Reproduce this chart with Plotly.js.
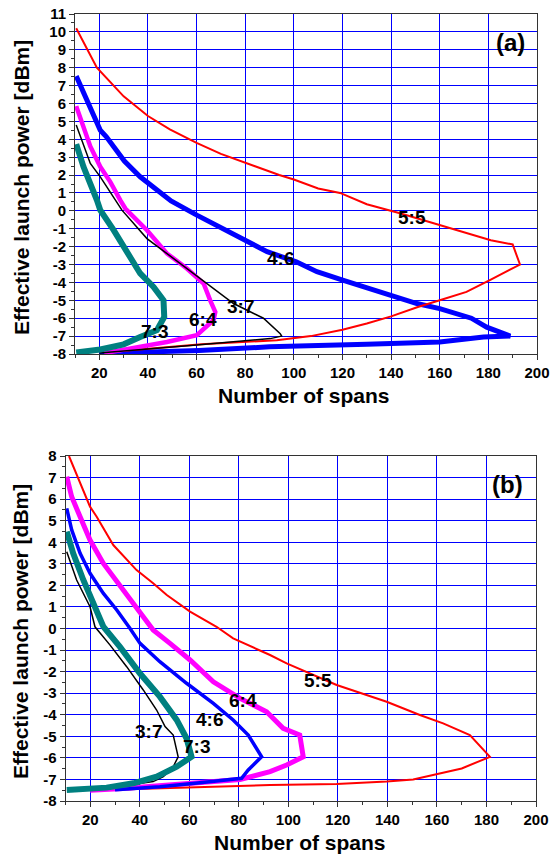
<!DOCTYPE html>
<html><head><meta charset="utf-8">
<script src="https://cdn.plot.ly/plotly-3.0.1.min.js"></script>
<style>html,body{margin:0;padding:0;background:#fff}</style>
</head><body>
<div id="chart" style="width:556px;height:856px"></div>
<script>
// Panel (a)
const a55x = [10.5, 19, 30, 40, 49, 60, 70, 81, 94, 100, 110, 119, 130, 144, 160, 181, 190, 193, 181, 171, 160, 151, 140, 130, 120, 107, 93, 62, 22];
const a55y = [10.2, 8.0, 6.4, 5.3, 4.55, 3.8, 3.18, 2.62, 2.0, 1.75, 1.25, 1.0, 0.37, -0.15, -0.8, -1.64, -1.88, -3.0, -3.84, -4.53, -5.0, -5.37, -5.9, -6.3, -6.64, -7.0, -7.23, -7.46, -7.92];
const a46x = [10.5, 13.5, 20.4, 22.9, 30.3, 36.8, 43.7, 49.5, 60.1, 69.7, 80.7, 89, 101, 109.5, 120.4, 131.4, 141, 150.6, 160, 171, 173, 179.3, 189, 178, 160, 130, 111, 90, 61, 20];
const a46y = [7.53, 6.65, 4.5, 4.14, 2.78, 1.9, 1.16, 0.55, -0.24, -0.9, -1.73, -2.28, -2.85, -3.4, -3.88, -4.34, -4.77, -5.18, -5.46, -5.9, -6.0, -6.5, -7.0, -7.05, -7.33, -7.46, -7.5, -7.6, -7.8, -7.97];
const a64x = [10.5, 12.9, 16.3, 20.4, 24.5, 28.6, 30.7, 39.6, 47.8, 56, 62.9, 65.6, 67.7, 67, 60.1, 47.8, 34.1, 22];
const a64y = [5.85, 4.9, 3.6, 2.46, 1.62, 0.6, 0.13, -1.08, -2.38, -3.22, -4.06, -5.0, -5.65, -6.1, -6.95, -7.33, -7.64, -7.95];
const a37x = [10.5, 12.2, 16.3, 20.4, 25.9, 29.3, 39.6, 50.5, 61.5, 75.2, 87.5, 94.4, 95, 90.3, 60, 20];
const a37y = [4.8, 4.14, 2.65, 1.9, 0.78, 0.04, -1.55, -2.66, -3.78, -5.18, -6.0, -6.86, -7.0, -7.14, -7.5, -7.95];
const a73x = [10.5, 13.5, 19, 20.4, 25.9, 31.4, 36.8, 42.3, 46.4, 46.7, 43.7, 36.8, 30, 20.4, 10.5];
const a73y = [3.73, 2.46, 0.6, 0.04, -1.08, -2.38, -3.5, -4.25, -5.0, -5.93, -6.67, -7.05, -7.46, -7.75, -7.92];

// Panel (b)
const b55x = [11.4, 19.9, 22.6, 29.3, 38.7, 45.4, 50.9, 60.3, 71, 77.7, 92.6, 99.3, 119.5, 139.7, 153.1, 162.5, 173.3, 181.4, 170, 159.9, 150.4, 139.7, 128.9, 119.5, 92.6, 60, 35];
const b55y = [8.0, 5.65, 5.18, 3.87, 2.71, 2.1, 1.55, 0.78, 0.08, -0.46, -1.23, -1.62, -2.62, -3.4, -4.01, -4.4, -4.94, -5.95, -6.49, -6.75, -7.0, -7.1, -7.15, -7.21, -7.26, -7.35, -7.45];
const b64x = [10.5, 12.5, 15.9, 19.9, 25.3, 33.3, 40.1, 45.4, 52.2, 60.3, 69.7, 80.5, 91.2, 97.9, 104.6, 106, 99.3, 92.6, 80.5, 64.3, 48.1, 33.3, 20];
const b64y = [7.04, 6.11, 5.18, 4.1, 3.02, 1.78, 0.7, -0.07, -0.69, -1.46, -2.47, -3.24, -3.86, -4.63, -4.94, -5.95, -6.33, -6.64, -7.0, -7.15, -7.3, -7.42, -7.5];
const b46x = [10.5, 12.5, 15.9, 19.9, 25.3, 30.7, 36, 40.1, 48.1, 58.9, 69.7, 77.7, 83.8, 89.2, 83.8, 81.1, 64.3, 48.1, 30];
const b46y = [5.57, 4.57, 3.49, 2.56, 1.63, 0.86, 0.01, -0.69, -1.54, -2.54, -3.47, -4.24, -4.94, -5.95, -6.56, -6.95, -7.15, -7.34, -7.48];
const b37x = [10.5, 14.5, 19.9, 21.9, 28, 34.7, 41.4, 46.8, 50.2, 53.5, 55.5, 53.5, 49.5, 45.4, 30, 12];
const b37y = [3.56, 2.25, 1.01, 0.08, -0.77, -1.77, -2.85, -3.78, -4.55, -4.94, -5.95, -6.41, -6.87, -7.1, -7.35, -7.5];
const b73x = [10.5, 13.1, 17.2, 21.2, 25.3, 32, 40.1, 48.1, 54.9, 58.9, 60.9, 54.9, 46.8, 37.4, 26.6, 10.5];
const b73y = [4.49, 3.49, 2.25, 1.17, 0.08, -0.85, -2.09, -3.16, -4.24, -5.1, -5.95, -6.41, -6.87, -7.18, -7.38, -7.49];

const ratioLabels = ["5:5", "4:6", "3:7", "6:4", "7:3"];
const aLabelX = [148.5, 94.5, 78.2, 62.8, 42.6];
const aLabelY = [-0.4, -2.65, -5.37, -6.07, -6.73];
const bLabelX = [112, 68.3, 43.4, 81.8, 63];
const bLabelY = [-2.39, -4.24, -4.79, -3.32, -5.45];

const xTickVals = [20, 40, 60, 80, 100, 120, 140, 160, 180, 200];
const yTickValsA = [-8, -7, -6, -5, -4, -3, -2, -1, 0, 1, 2, 3, 4, 5, 6, 7, 8, 9, 10, 11];
const yTickValsB = [-8, -7, -6, -5, -4, -3, -2, -1, 0, 1, 2, 3, 4, 5, 6, 7, 8];

const C = {red:'#ff0000', blue:'#0000ff', mag:'#ff00ff', blk:'#000000', teal:'#008080'};
function tr(x, y, color, w, xa, ya){
  return {x:x, y:y, type:'scatter', mode:'lines', line:{color:color, width:w, shape:'linear'},
          xaxis:xa, yaxis:ya, showlegend:false, hoverinfo:'skip'};
}
const traces = [
  tr(a46x, a46y, C.blue, 5, 'x', 'y'),
  tr(a55x, a55y, C.red, 2, 'x', 'y'),
  tr(a64x, a64y, C.mag, 4.5, 'x', 'y'),
  tr(a37x, a37y, C.blk, 1.5, 'x', 'y'),
  tr(a73x, a73y, C.teal, 6, 'x', 'y'),
  tr(b55x, b55y, C.red, 2, 'x2', 'y2'),
  tr(b64x, b64y, C.mag, 5, 'x2', 'y2'),
  tr(b46x, b46y, C.blue, 3.5, 'x2', 'y2'),
  tr(b37x, b37y, C.blk, 1.5, 'x2', 'y2'),
  tr(b73x, b73y, C.teal, 6, 'x2', 'y2')
];

const W = 556, H = 856;
const FONT = 'Liberation Sans, Arial, sans-serif';
const tickFont = {family:FONT, size:15, color:'#000'};
const grid = '#0000ff';
const bold = v => '<b>' + v + '</b>';
function xAx(dom, anchor){
  return {domain:dom, anchor:anchor, range:[10,200], tickmode:'array', tickvals:xTickVals, ticktext:xTickVals.map(bold),
    ticks:'outside', ticklen:5,
    tickwidth:1, tickcolor:'#333', showline:true, linecolor:'#333', linewidth:1, mirror:true,
    showgrid:true, gridcolor:grid, gridwidth:1, zeroline:false, tickfont:tickFont, automargin:false,
    minor:{dtick:10, tick0:10, ticks:'outside', ticklen:3, tickcolor:'#333', showgrid:false}};
}
function yAx(dom, anchor, r, tv){
  return {domain:dom, anchor:anchor, range:r, tickmode:'array', tickvals:tv, ticktext:tv.map(bold),
    ticks:'outside', ticklen:5,
    tickwidth:1, tickcolor:'#333', showline:true, linecolor:'#333', linewidth:1, mirror:true,
    showgrid:true, gridcolor:grid, gridwidth:1, zeroline:false, tickfont:tickFont, automargin:false,
    minor:{dtick:0.5, tick0:0, ticks:'outside', ticklen:3, tickcolor:'#333', showgrid:false}};
}
function xTop(over, anchor){
  return {overlaying:over, anchor:anchor, side:'top', range:[10,200], dtick:10, tick0:10, ticks:'inside', ticklen:4,
    tickcolor:'#333', showticklabels:false, showgrid:false, zeroline:false, showline:false, automargin:false};
}
function yRight(over, anchor, r){
  return {overlaying:over, anchor:anchor, side:'right', range:r, dtick:0.5, tick0:0, ticks:'inside', ticklen:4,
    tickcolor:'#333', showticklabels:false, showgrid:false, zeroline:false, showline:false, automargin:false};
}

const xdA = [75/W, 537/W], ydA = [1-354/H, 1-14/H];
const xdB = [65.5/W, 536/W], ydB = [1-801/H, 1-456/H];

const ann = [];
const lblFont = {family:FONT, size:19, color:'#000', weight:'bold'};
for (let i=0;i<ratioLabels.length;i++){
  ann.push({x:aLabelX[i], y:aLabelY[i], xref:'x', yref:'y', text:ratioLabels[i], showarrow:false, font:lblFont, xanchor:'center', yanchor:'middle'});
  ann.push({x:bLabelX[i], y:bLabelY[i], xref:'x2', yref:'y2', text:ratioLabels[i], showarrow:false, font:lblFont, xanchor:'center', yanchor:'middle'});
}
const titleFont = {family:FONT, size:21, color:'#000', weight:'bold'};
function pAnn(px, py, text, font, angle){
  return {x:px/W, y:1-py/H, xref:'paper', yref:'paper', text:text, showarrow:false, font:font,
          xanchor:'center', yanchor:'middle', textangle:angle||0};
}
ann.push(pAnn(304, 395, 'Number of spans', titleFont));
ann.push(pAnn(300, 842, 'Number of spans', titleFont));
ann.push(pAnn(22, 188, 'Effective launch power [dBm]', titleFont, -90));
ann.push(pAnn(20, 632, 'Effective launch power [dBm]', titleFont, -90));
const tagFont = {family:FONT, size:24, color:'#000', weight:'bold'};
ann.push(pAnn(510, 42, '(a)', tagFont));
ann.push(pAnn(507, 485, '(b)', tagFont));

const layout = {
  width:W, height:H, margin:{l:0, r:0, t:0, b:0}, paper_bgcolor:'#fff', plot_bgcolor:'#fff',
  showlegend:false,
  xaxis: xAx(xdA, 'y'), yaxis: yAx(ydA, 'x', [-8, 11], yTickValsA),
  xaxis2: xAx(xdB, 'y2'), yaxis2: yAx(ydB, 'x2', [-8, 8], yTickValsB),
  xaxis3: xTop('x', 'y'), yaxis3: yRight('y', 'x', [-8, 11]),
  xaxis4: xTop('x2', 'y2'), yaxis4: yRight('y2', 'x2', [-8, 8]),
  annotations: ann
};
Plotly.newPlot('chart', traces, layout, {displayModeBar:false, staticPlot:true});
</script>
</body></html>
